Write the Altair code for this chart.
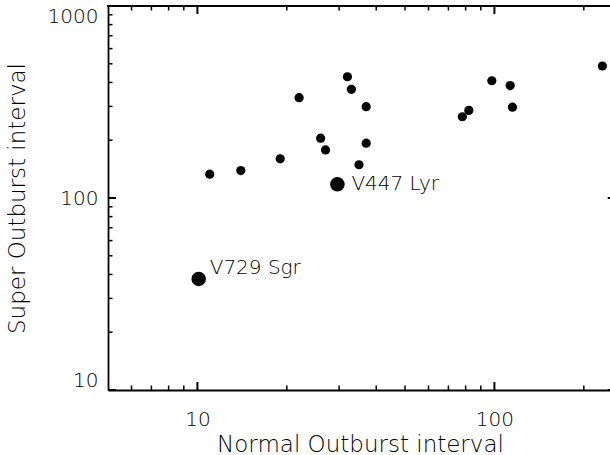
import altair as alt
import pandas as pd

# ---- data ----
normal_interval = [11.0, 14.0, 19.0, 22.0, 26.0, 27.0, 32.0, 33.0, 37.0, 37.0, 35.0,
                   78.0, 82.0, 98.0, 113.0, 115.0, 231.0]
super_interval = [133, 139, 160, 333, 205, 178, 428, 368, 299, 193, 149,
                  265, 286, 408, 385, 297, 487]

named_stars = ["V729 Sgr", "V447 Lyr"]
named_normal = [10.1, 29.6]
named_super = [37.9, 117.9]
label_normal = [11.0, 33.0]
label_super = [40.0, 110.0]

x_major = [10, 100]
x_minor = [6, 7, 8, 9, 20, 30, 40, 50, 60, 70, 80, 90, 200]
y_major = [10, 100, 1000]
y_minor = [20, 30, 40, 50, 60, 70, 80, 90, 200, 300, 400, 500, 600, 700, 800, 900]

# visible part of the x axis (the frame continues just past the picture's edge)
X_DOMAIN = [5, 245]
Y_DOMAIN = [10, 1000]
W, H = 502, 384
RIGHT_FRAME = W + 5.7
FONT = "DejaVu Sans"
WEIGHT = 200

pts = pd.DataFrame({"n": normal_interval, "s": super_interval})
named = pd.DataFrame({"n": named_normal, "s": named_super, "name": named_stars})
labels = pd.DataFrame({"n": label_normal, "s": label_super, "name": named_stars})

xs = alt.Scale(type="log", domain=X_DOMAIN, nice=False)
ys = alt.Scale(type="log", domain=Y_DOMAIN, nice=False)

x_axis = alt.Axis(values=x_major, format="d", domain=True, domainColor="black",
                  domainWidth=1.8, ticks=False, tickSize=0,
                  grid=False, labelFontSize=20, labelFont=FONT, labelColor="black",
                  labelFontWeight=WEIGHT,
                  labelPadding=19, title="Normal Outburst interval", titleFont=FONT,
                  titleFontSize=23, titleFontWeight=WEIGHT, titleColor="black",
                  titleBaseline="alphabetic", titleY=61, titleX=252, titleAlign="center")
y_axis = alt.Axis(values=y_major, format="d", domain=True, domainColor="black",
                  domainWidth=1.8, ticks=False, tickSize=0,
                  grid=False, labelFontSize=20, labelFont=FONT, labelColor="black",
                  labelFontWeight=WEIGHT,
                  labelPadding=10, labelFlush=True,
                  title="Super Outburst interval", titleFont=FONT,
                  titleFontSize=23, titleFontWeight=WEIGHT, titleColor="black",
                  titleBaseline="alphabetic", titleX=-84, titleY=H / 2,
                  titleAlign="center", titleAngle=270)


def X(field):
    return alt.X(field, scale=xs, axis=x_axis)


def Y(field):
    return alt.Y(field, scale=ys, axis=y_axis)


base_pts = alt.Chart(pts).mark_circle(size=85, color="black", opacity=1).encode(
    x=X("n:Q"), y=Y("s:Q"))
big_pts = alt.Chart(named).mark_circle(size=211, color="black", opacity=1).encode(
    x=X("n:Q"), y=Y("s:Q"))
txt = alt.Chart(labels).mark_text(align="left", baseline="alphabetic", fontSize=20,
                                  font=FONT, fontWeight=WEIGHT, color="black").encode(
    x=X("n:Q"), y=Y("s:Q"), text="name:N")

# top edge of the frame
top_line = alt.Chart(pd.DataFrame({"s": [Y_DOMAIN[1]]})).mark_rule(
    color="black", strokeWidth=1.8).encode(
    y=Y("s:Q"), x=alt.value(-0.9), x2=alt.value(RIGHT_FRAME))


def xticks(vals, length, width):
    d = pd.DataFrame({"n": vals})
    bottom = alt.Chart(d).mark_rule(color="black", strokeWidth=width).encode(
        x=X("n:Q"), y=alt.value(H), y2=alt.value(H - length))
    top = alt.Chart(d).mark_rule(color="black", strokeWidth=width).encode(
        x=X("n:Q"), y=alt.value(0), y2=alt.value(length))
    return [bottom, top]


def yticks(vals, length, width):
    d = pd.DataFrame({"s": vals})
    left = alt.Chart(d).mark_rule(color="black", strokeWidth=width).encode(
        y=Y("s:Q"), x=alt.value(0), x2=alt.value(length))
    right = alt.Chart(d).mark_rule(color="black", strokeWidth=width).encode(
        y=Y("s:Q"), x=alt.value(RIGHT_FRAME), x2=alt.value(RIGHT_FRAME - length))
    return [left, right]


layers = [base_pts, big_pts, txt, top_line]
layers += xticks(x_major, 8, 2) + xticks(x_minor, 4.5, 1.5)
layers += yticks(y_major, 8, 2) + yticks(y_minor, 4.5, 1.5)

chart = alt.layer(*layers).properties(
    width=W, height=H,
    autosize=alt.AutoSizeParams(type="none"),
    padding={"left": 108, "top": 6, "right": 0, "bottom": 65},
    background="white",
).configure_view(stroke=None)

chart.save("out.html", embed_options={"renderer": "svg", "actions": False})
